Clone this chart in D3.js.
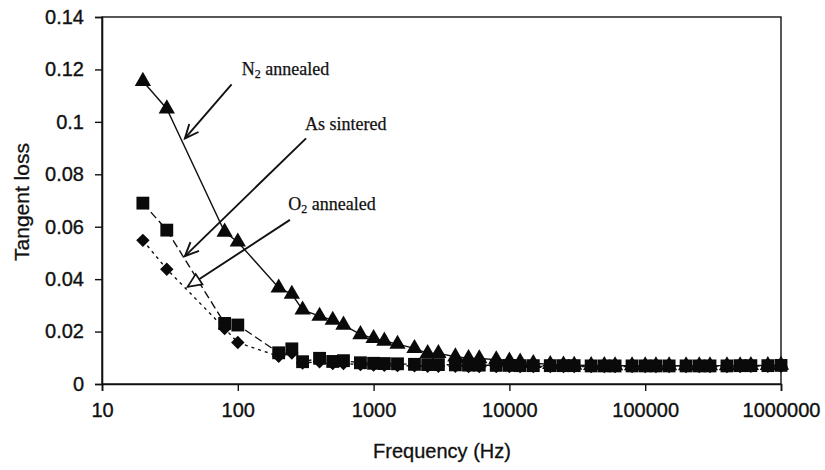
<!DOCTYPE html>
<html>
<head>
<meta charset="utf-8">
<script src="https://cdn.jsdelivr.net/npm/d3@7"></script>
<style>
  html, body { margin: 0; padding: 0; background: #fff; }
  svg { display: block; }
  .tick text { font-family: "Liberation Sans", Arial, sans-serif; }
</style>
</head>
<body>
<svg id="chart" width="825" height="470"></svg>
<script>
// Measurement frequencies (Hz)
const freq = [20, 30, 80, 100, 200, 250, 300, 400, 500, 600, 800, 1000, 1200, 1500,
  2000, 2500, 3000, 4000, 5000, 6000, 8000, 10000, 12000, 15000, 20000, 25000, 30000,
  40000, 50000, 60000, 80000, 100000, 120000, 150000, 200000, 250000, 300000,
  400000, 500000, 600000, 800000, 1000000];

// Tangent loss, N2 annealed (triangles)
const n2Annealed = [0.1155, 0.105, 0.058, 0.0542, 0.0367, 0.0343, 0.0283, 0.0259, 0.0244,
  0.0225, 0.0189, 0.0174, 0.0164, 0.0152, 0.0136, 0.0117, 0.0117, 0.0104, 0.0098, 0.0097,
  0.0093, 0.0088, 0.0084, 0.0079, 0.0075, 0.0073, 0.0072, 0.0071, 0.0071, 0.0070, 0.0070,
  0.0070, 0.0070, 0.0070, 0.0070, 0.0070, 0.0070, 0.0070, 0.0070, 0.0071, 0.0071, 0.0072];

// Tangent loss, as sintered (squares)
const asSintered = [0.069, 0.0587, 0.0231, 0.0225, 0.0119, 0.0134, 0.0085, 0.0098, 0.0086,
  0.0089, 0.0081, 0.0079, 0.0078, 0.0077, 0.0075, 0.0074, 0.0074, 0.0073, 0.0072, 0.0072,
  0.0071, 0.0071, 0.0070, 0.0070, 0.0070, 0.0070, 0.0070, 0.0069, 0.0069, 0.0069, 0.0069,
  0.0069, 0.0069, 0.0069, 0.0069, 0.0069, 0.0069, 0.0069, 0.0070, 0.0070, 0.0070, 0.0071];

// Tangent loss, O2 annealed (diamonds)
const o2Annealed = [0.0548, 0.0438, 0.0212, 0.0158, 0.0106, 0.0118, 0.0080, 0.0085, 0.0078,
  0.0078, 0.0074, 0.0072, 0.0071, 0.0070, 0.0069, 0.0068, 0.0068, 0.0068, 0.0067, 0.0067,
  0.0067, 0.0067, 0.0067, 0.0067, 0.0067, 0.0067, 0.0067, 0.0067, 0.0067, 0.0067, 0.0067,
  0.0067, 0.0067, 0.0067, 0.0067, 0.0067, 0.0067, 0.0067, 0.0067, 0.0068, 0.0068, 0.0068];

const xTicks = [10, 100, 1000, 10000, 100000, 1000000];
const yTicks = [0, 0.02, 0.04, 0.06, 0.08, 0.1, 0.12, 0.14];

// Call-out labels: text, text anchor point, arrow tail, arrow tip (in data units)
const calloutText = ["N|2| annealed", "As sintered", "O|2| annealed"];
const calloutAt = [[107, 0.1179], [313, 0.0969], [235, 0.0664]];
const calloutTail = [[90, 0.1143], [318, 0.0937], [242, 0.0626]];
const calloutTip = [[40.8, 0.0937], [40.8, 0.0488], [42.7, 0.0371]];
const calloutHead = ["open", "open", "hollow"];

const svg = d3.select("#chart");
const x = d3.scaleLog().domain([10, 1e6]).range([102, 781]);
const y = d3.scaleLinear().domain([0, 0.14]).range([384, 17]);

// plot frame
svg.append("rect")
  .attr("x", x(10)).attr("y", y(0.14))
  .attr("width", x(1e6) - x(10)).attr("height", y(0) - y(0.14))
  .attr("fill", "none").attr("stroke", "#111").attr("stroke-width", 1.4);

// axes
const xAxis = svg.append("g")
  .attr("transform", `translate(0,${y(0)})`)
  .call(d3.axisBottom(x).tickValues(xTicks).tickFormat(d3.format("d")).tickSize(7).tickPadding(12));
const yAxis = svg.append("g")
  .attr("transform", `translate(${x(10)},0)`)
  .call(d3.axisLeft(y).tickValues(yTicks).tickFormat(d => d === 0 ? "0" : String(+d.toFixed(2))).tickSize(7).tickPadding(11));

[xAxis, yAxis].forEach(a => {
  a.select(".domain").attr("stroke", "#111").attr("stroke-width", 1.6);
  a.selectAll(".tick line").attr("stroke", "#111").attr("stroke-width", 1.4);
  a.selectAll(".tick text").attr("fill", "#111").attr("font-size", 20)
    .attr("stroke", "#111").attr("stroke-width", 0.35);
});

// axis titles
svg.append("text")
  .attr("x", 442).attr("y", 458)
  .attr("text-anchor", "middle")
  .attr("font-family", "Liberation Sans, Arial, sans-serif")
  .attr("font-size", 20).attr("fill", "#111")
  .attr("stroke", "#111").attr("stroke-width", 0.3)
  .text("Frequency (Hz)");
svg.append("text")
  .attr("transform", "translate(29,202) rotate(-90)")
  .attr("text-anchor", "middle")
  .attr("font-family", "Liberation Sans, Arial, sans-serif")
  .attr("font-size", 21).attr("fill", "#111")
  .attr("stroke", "#111").attr("stroke-width", 0.3)
  .text("Tangent loss");

const pts = vals => freq.map((f, i) => [f, vals[i]]);
const line = d3.line().x(d => x(d[0])).y(d => y(d[1]));

// square diamond (a square turned 45 degrees)
const squareDiamond = {
  draw(ctx, size) {
    const r = Math.sqrt(size / 2);
    ctx.moveTo(0, -r); ctx.lineTo(r, 0); ctx.lineTo(0, r); ctx.lineTo(-r, 0); ctx.closePath();
  }
};

const series = [
  { vals: n2Annealed, dash: null, shape: d3.symbolTriangle, size: 115 },
  { vals: o2Annealed, dash: "3,4", shape: squareDiamond, size: 90 },
  { vals: asSintered, dash: "8,4", shape: d3.symbolSquare, size: 165 }
];

series.forEach(s => {
  svg.append("path")
    .datum(pts(s.vals))
    .attr("d", line)
    .attr("fill", "none")
    .attr("stroke", "#111")
    .attr("stroke-width", 1.4)
    .attr("stroke-dasharray", s.dash);
  svg.append("g").selectAll("path")
    .data(pts(s.vals))
    .join("path")
    .attr("transform", d => `translate(${x(d[0])},${y(d[1])})`)
    .attr("d", d3.symbol().type(s.shape).size(s.size))
    .attr("fill", "#0a0a0a");
});

// call-outs
calloutText.forEach((t, i) => {
  const parts = t.split("|");
  const txt = svg.append("text")
    .attr("x", x(calloutAt[i][0])).attr("y", y(calloutAt[i][1]))
    .attr("font-family", "Liberation Serif, Times New Roman, serif")
    .attr("font-size", 18).attr("fill", "#111")
    .attr("stroke", "#111").attr("stroke-width", 0.25);
  parts.forEach((p, k) => {
    if (k === 1) {
      txt.append("tspan").attr("font-size", 12).attr("dy", 3).text(p);
    } else if (k === 2) {
      txt.append("tspan").attr("dy", -3).text(p);
    } else {
      txt.append("tspan").text(p);
    }
  });

  const x1 = x(calloutTail[i][0]), y1 = y(calloutTail[i][1]);
  const x2 = x(calloutTip[i][0]), y2 = y(calloutTip[i][1]);
  svg.append("line")
    .attr("x1", x1).attr("y1", y1).attr("x2", x2).attr("y2", y2)
    .attr("stroke", "#111").attr("stroke-width", 1.9);
  const ang = Math.atan2(y1 - y2, x1 - x2);
  const len = 15, spread = 0.42;
  const a1 = [x2 + len * Math.cos(ang + spread), y2 + len * Math.sin(ang + spread)];
  const a2 = [x2 + len * Math.cos(ang - spread), y2 + len * Math.sin(ang - spread)];
  if (calloutHead[i] === "open") {
    svg.append("path")
      .attr("d", `M${a1[0]},${a1[1]}L${x2},${y2}L${a2[0]},${a2[1]}`)
      .attr("fill", "none").attr("stroke", "#111").attr("stroke-width", 1.9);
  } else {
    svg.append("path")
      .attr("d", `M${a1[0]},${a1[1]}L${x2},${y2}L${a2[0]},${a2[1]}Z`)
      .attr("fill", "#fff").attr("stroke", "#111").attr("stroke-width", 1.7);
  }
});
</script>
</body>
</html>
